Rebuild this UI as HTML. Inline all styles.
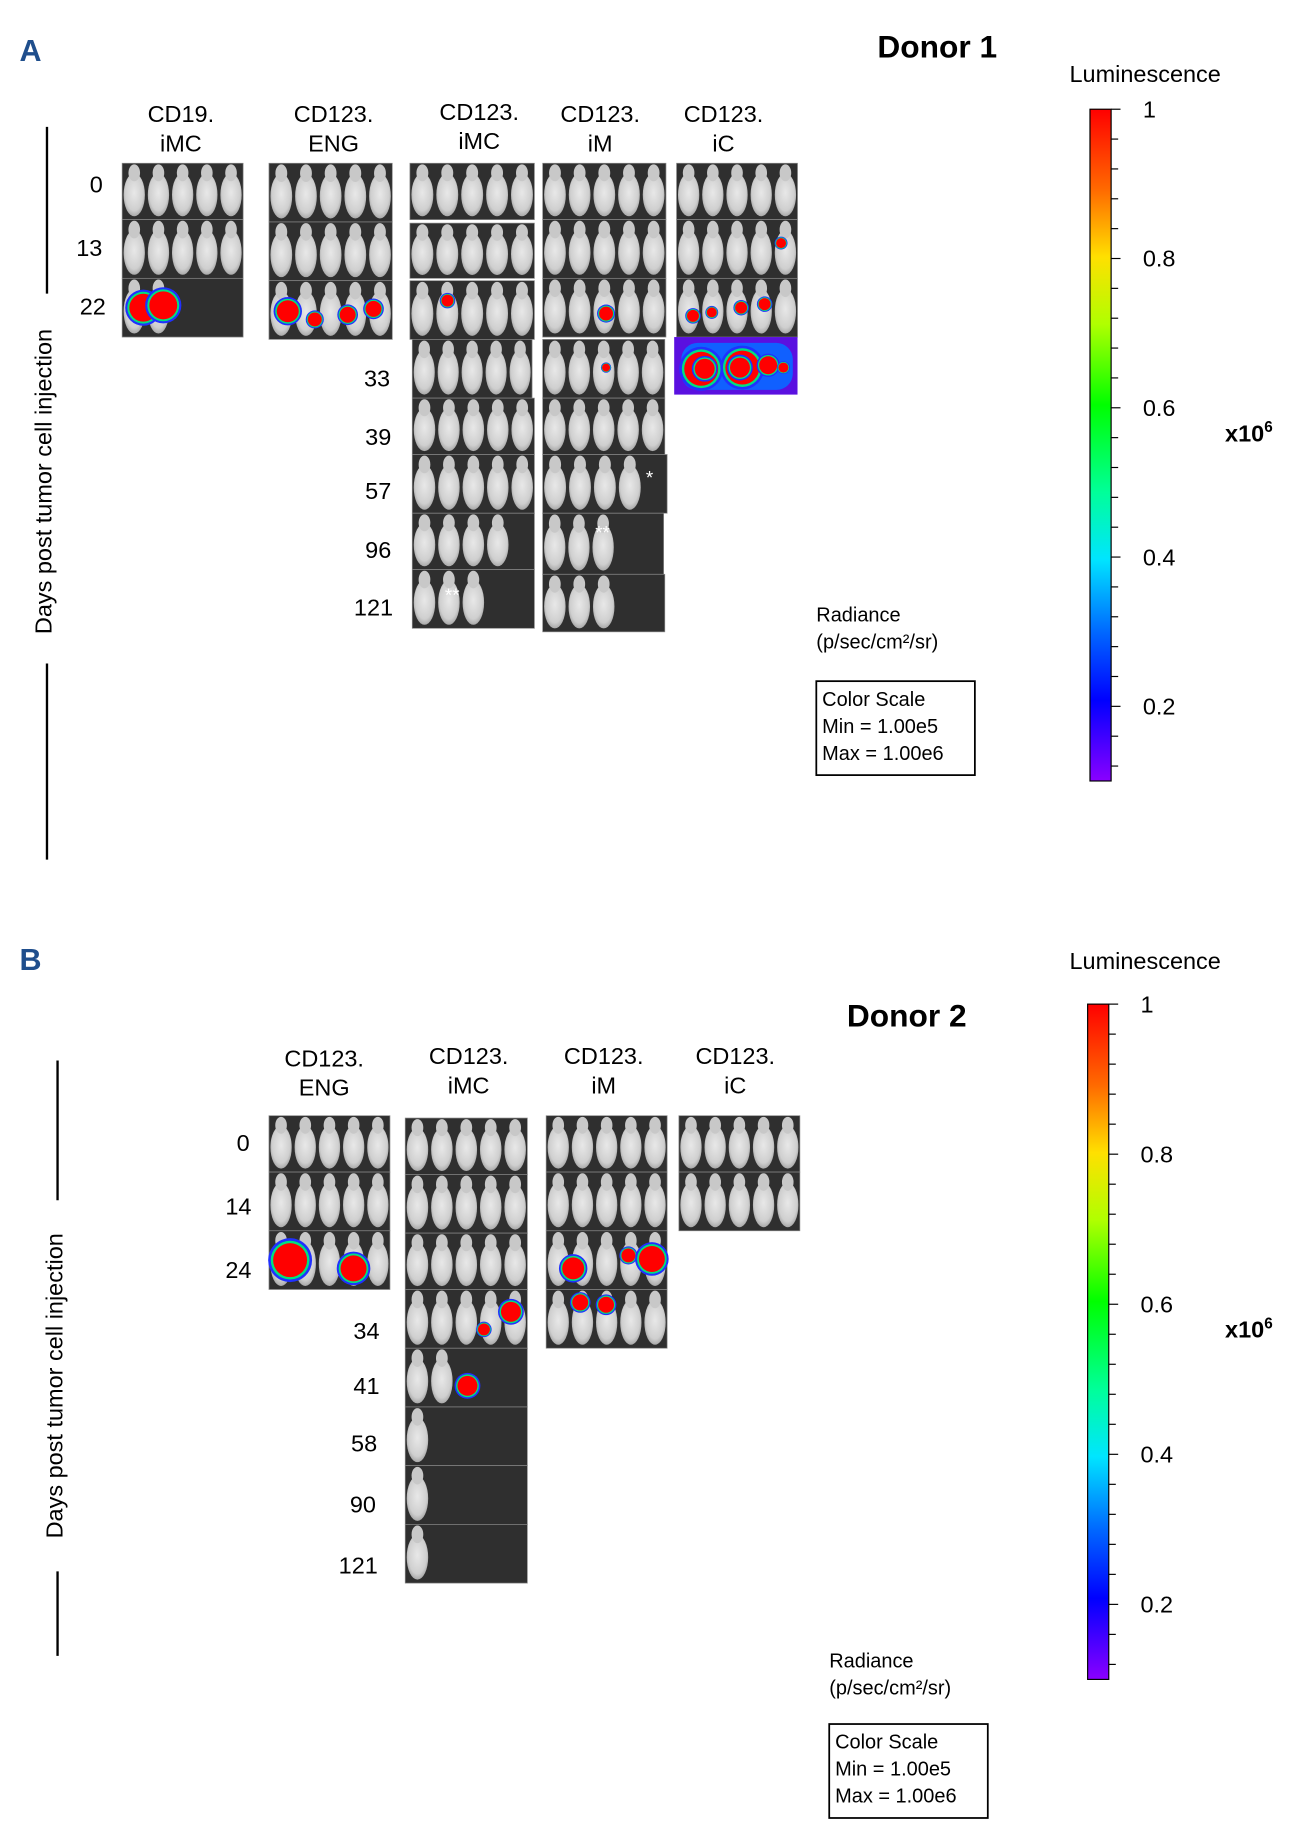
<!DOCTYPE html>
<html><head><meta charset="utf-8"><style>
html,body{margin:0;padding:0;background:#fff;}
svg{display:block;}
text{font-family:"Liberation Sans",sans-serif;}
</style></head><body>
<svg id="fig" width="1292" height="1845" viewBox="0 0 1100 1571" preserveAspectRatio="none" xmlns="http://www.w3.org/2000/svg">
<defs>
<linearGradient id="cbar" x1="0" y1="0" x2="0" y2="1">
<stop offset="0" stop-color="#ff0000"/><stop offset="0.12" stop-color="#ff6a00"/>
<stop offset="0.22" stop-color="#ffe000"/><stop offset="0.32" stop-color="#b0ff00"/>
<stop offset="0.44" stop-color="#00ff00"/><stop offset="0.57" stop-color="#00ff99"/>
<stop offset="0.67" stop-color="#00e5ff"/><stop offset="0.78" stop-color="#0066ff"/>
<stop offset="0.88" stop-color="#0000ff"/><stop offset="1" stop-color="#8a00ff"/>
</linearGradient>
<radialGradient id="mouse" cx="0.5" cy="0.45" r="0.6">
<stop offset="0" stop-color="#e8e8e8"/><stop offset="0.7" stop-color="#cfcfcf"/><stop offset="1" stop-color="#9a9a9a"/>
</radialGradient>
</defs>
<g id="content"></g>
</svg>
<script>
const NS="http://www.w3.org/2000/svg";
const root=document.getElementById('content');
function mk(tag,attrs,parent){const e=document.createElementNS(NS,tag);for(const k in attrs)e.setAttribute(k,attrs[k]);(parent||root).appendChild(e);return e;}
function txt(x,y,s,size,opts){const t=mk('text',Object.assign({x:x,y:y,'font-size':size,'text-anchor':'middle'},opts||{}));t.textContent=s;return t;}

let t;
t=txt(26,52,'A',26,{fill:'#1f4e8c','font-weight':'bold'});

t=txt(26,826,'B',26,{fill:'#1f4e8c','font-weight':'bold'});

t=txt(798,49,'Donor 1',27,{'font-weight':'bold'});

t=txt(772,874,'Donor 2',27,{'font-weight':'bold'});


const colTitles1=[[154,'CD19.','iMC',97],[284,'CD123.','ENG',97],[408,'CD123.','iMC',95],[511,'CD123.','iM',97],[616,'CD123.','iC',97]];
const colTitles2=[[276,'CD123.','ENG',901],[399,'CD123.','iMC',899],[514,'CD123.','iM',899],[626,'CD123.','iC',899]];
[...colTitles1,...colTitles2].forEach(c=>{
  const a=txt(c[0],c[3]+7,c[1],20);
  const b=txt(c[0],c[3]+32,c[2],20);
});

const days1=[['0',82,157],['13',76,211],['22',79,261],['33',321,322],['39',322,372],['57',322,418],['96',322,468],['121',318,517]];
const days2=[['0',207,973],['14',203,1027],['24',203,1081],['34',312,1133],['41',312,1180],['58',310,1229],['90',309,1281],['121',305,1333]];
[...days1,...days2].forEach(d=>{const e=txt(d[1],d[2]+7,d[0],20);});

[[40,108,250,565,732,410],[49,903,1022,1338,1410,1180]].forEach(a=>{
  let l=mk('line',{x1:a[0],x2:a[0],y1:a[1],y2:a[2],stroke:'#000','stroke-width':2});
  
  l=mk('line',{x1:a[0],x2:a[0],y1:a[3],y2:a[4],stroke:'#000','stroke-width':2});
  
  const e=txt(0,0,'Days post tumor cell injection',20,{transform:`translate(${a[0]+4},${a[5]}) rotate(-90)`});
  
});

const panels=[
 [104,139,103,48,5],[104,187,103,50,5],[104,237,103,50,2],
 [229,139,105,50,5],[229,189,105,50,5],[229,239,105,50,5],
 [349,139,106,48,5],[349,190,106,47,5],[349,239,106,50,5],[351,289,102,50,5],[351,339,104,48,5],[351,387,104,50,5],[351,437,104,48,4],[351,485,104,50,3],
 [462,139,105,48,5],[462,187,105,50,5],[462,237,105,50,5],[462,289,104,50,5],[462,339,104,48,5],[462,387,106,50,4],[462,437,103,52,3],[462,489,104,49,3],
 [576,139,103,48,5],[576,187,103,50,5],[576,237,103,50,5],
 [229,950,103,48,5],[229,998,103,50,5],[229,1048,103,50,5],
 [345,952,104,48,5],[345,1000,104,50,5],[345,1050,104,48,5],[345,1098,104,50,5],[345,1148,104,50,2],[345,1198,104,50,1],[345,1248,104,50,1],[345,1298,104,50,1],
 [465,950,103,48,5],[465,998,103,50,5],[465,1048,103,50,5],[465,1098,103,50,5],
 [578,950,103,48,5],[578,998,103,50,5]
];
panels.forEach(p=>{
  const g=mk('g',{});
  
  
  mk('rect',{x:p[0],y:p[1],width:p[2],height:p[3],fill:'#2f2f2f',stroke:'#888','stroke-width':0.6},g);
  const mw=p[2]/5;
  for(let i=0;i<p[4];i++){
    const cx=p[0]+mw*(i+0.5), cy=p[1]+p[3]*0.56;
    mk('ellipse',{cx:cx,cy:cy,rx:mw*0.44,ry:p[3]*0.38,fill:'url(#mouse)'},g);
    mk('ellipse',{cx:cx,cy:p[1]+p[3]*0.17,rx:mw*0.24,ry:p[3]*0.15,fill:'#c8c8c8'},g);
  }
});
(function(){
  const g=mk('g',{});
  mk('rect',{x:574,y:287,width:105,height:49,fill:'#5a10e0'},g);
  mk('rect',{x:580,y:292,width:95,height:40,rx:14,fill:'#1060ff'},g);
})();

const sigX=[122,139,245,268,296,318,381,516,516,590,606,631,651,665,597,632,654,247,301,488,494,535,555,435,600,630,667,516,398,412];
const sigY=[262,260,265,272,268,263,256,267,313,269,266,262,259,207,314,313,311,1073,1080,1080,1109,1069,1072,1117,314,313,313,1111,1180,1132];
const sigR=[14,14,11,7,8,8,6,7,4,6,5,6,6,5,17,17,9,17,13,11,8,7,13,10,10,10,5,8,10,6];
sigX.forEach((x,i)=>{
  const g=mk('g',{});
  
  
  const r=sigR[i];
  mk('circle',{cx:x,cy:sigY[i],r:r*1.1,fill:'#2030ff'},g);
  mk('circle',{cx:x,cy:sigY[i],r:r*0.97,fill:'#00e080'},g);
  mk('circle',{cx:x,cy:sigY[i],r:r*0.85,fill:'#ff0000'},g);
});
[[553,412,'*'],[513,459,'**'],[385,512,'**']].forEach(a=>{const e=txt(a[0],a[1],a[2],16,{fill:'#fff'});});

function radLegend(x,y,bx,by){
  const a=txt(x,y,'Radiance',17,{'text-anchor':'start'});
  const b=txt(x,y+23,'(p/sec/cm²/sr)',17,{'text-anchor':'start'});
  const r=mk('rect',{x:bx,y:by,width:135,height:80,fill:'#fff',stroke:'#000','stroke-width':1.5});
  
  ['Color Scale','Min = 1.00e5','Max = 1.00e6'].forEach((s,i)=>{const e=txt(bx+5,by+21+i*23,s,17,{'text-anchor':'start'});});
}
radLegend(695,529,695,580);
radLegend(706,1420,706,1468);

const cbTicks=['1','0.8','0.6','0.4','0.2'];
const cbTickVals=[1,0.8,0.6,0.4,0.2];
function colorbar(x,top,bot,lumY,xY){
  const a=txt(975,lumY,'Luminescence',20);
  const r=mk('rect',{x:x,y:top,width:18,height:bot-top,fill:'url(#cbar)',stroke:'#000','stroke-width':1});
  
  const vy=v=>top+(1-v)/(1-0.1)*(bot-top);
  for(let k=0;k<=22;k++){const v=1-k*0.04;const y=vy(v);if(y>bot)break;
    const l=mk('line',{x1:x+18,x2:x+(k%5==0?26:24),y1:y,y2:y,stroke:'#000','stroke-width':1});
    }
  cbTicks.forEach((s,i)=>{const e=txt(x+45,vy(cbTickVals[i])+7,s,20,{'text-anchor':'start'});});
  const m=txt(1043,xY,'x10',20,{'text-anchor':'start','font-weight':'bold'});
  const s=mk('tspan',{dy:-8,'font-size':13});s.textContent='6';m.appendChild(s);
}
colorbar(928,93,665,70,376);
colorbar(926,855,1430,825,1139);
</script>
</body></html>
